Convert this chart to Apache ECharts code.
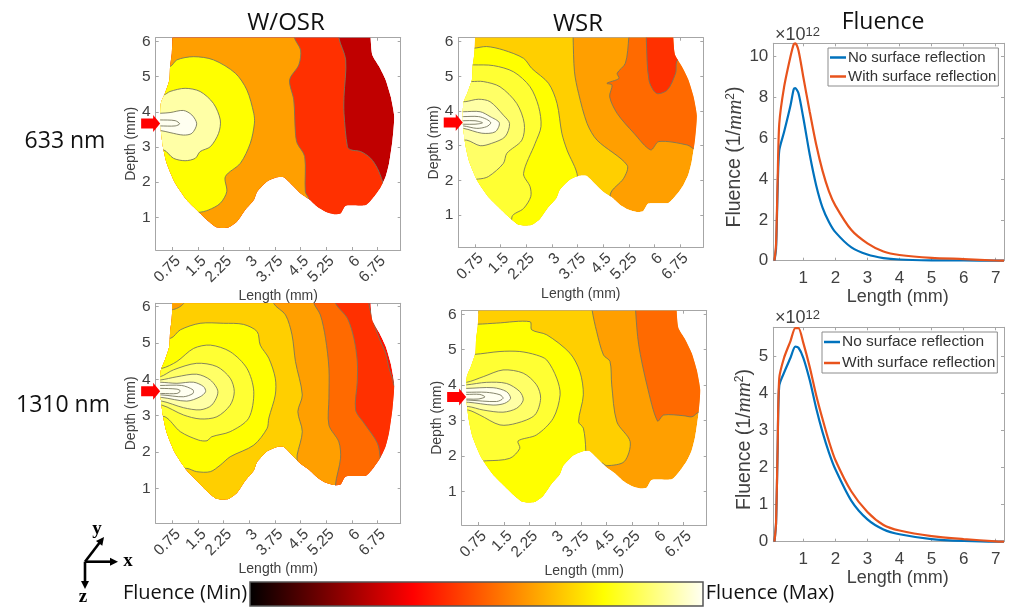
<!DOCTYPE html>
<html><head><meta charset="utf-8"><style>html,body{margin:0;padding:0;background:#fff}#c{width:1010px;height:607px}</style>
<script src="https://cdn.jsdelivr.net/npm/echarts@6/dist/echarts.min.js"></script></head><body><div id="c"></div>
<script>
// Shared tissue outline (Length mm, Depth mm); it runs past the top of the frame, where the axes clip it
const tissueOutline=[[0.75,6.6],[0.75,6.11],[0.73,5.67],[0.68,5.29],[0.66,4.91],[0.53,4.53],[0.41,4.24],[0.39,3.68],[0.47,3.01],[0.58,2.54],[0.83,1.97],[1.17,1.49],[1.51,1.16],[1.81,0.88],[2.05,0.71],[2.39,0.71],[2.64,0.88],[2.88,1.21],[3.13,1.49],[3.23,1.73],[3.52,2.02],[3.81,2.14],[4.01,2.14],[4.25,1.92],[4.50,1.68],[4.74,1.52],[4.99,1.30],[5.23,1.16],[5.48,1.09],[5.67,1.11],[5.82,1.33],[6.41,1.35],[6.65,1.59],[6.85,1.87],[6.99,2.16],[7.09,2.54],[7.19,3.20],[7.24,3.87],[7.14,4.43],[6.99,4.91],[6.80,5.29],[6.60,5.62],[6.55,6.11],[6.55,6.6]];
// Contour bands, painted in order; each band is closed outside the tissue
const osr633Bands=[
[[5.62,6.11],[5.82,5.48],[5.77,4.43],[5.77,3.96],[5.87,3.01],[5.97,2.92],[6.26,2.87],[6.55,2.68],[6.75,2.39],[6.90,2.02],[6.94,1.87],[7.5,1.5],[7.5,0],[0,0],[0,6.8],[5.6,6.8]],
[[4.32,6.11],[4.50,5.76],[4.45,5.34],[4.18,4.91],[4.30,4.34],[4.35,3.39],[4.40,3.11],[4.62,2.73],[4.64,1.73],[4.74,1.52],[4.74,0],[0,0],[0,6.8],[4.25,6.8]],
[[0.68,5.29],[0.88,5.48],[1.37,5.57],[1.95,5.48],[2.59,5.10],[2.93,4.62],[3.13,3.96],[3.15,3.68],[3.03,3.11],[2.74,2.54],[2.30,2.16],[2.34,1.73],[2.15,1.40],[1.81,1.21],[1.51,1.14],[0,1.14],[0,5.29]],
[[0.49,4.48],[0.68,4.58],[1.12,4.67],[1.56,4.58],[1.95,4.24],[2.15,3.77],[2.10,3.39],[1.86,3.01],[1.56,2.87],[1.42,2.68],[1.12,2.61],[0.78,2.68],[0.49,2.92],[0,2.92],[0,4.48]],
[[0.39,3.96],[0.68,3.98],[1.07,4.04],[1.32,3.91],[1.46,3.66],[1.32,3.39],[1.07,3.34],[0.68,3.41],[0.39,3.47],[0,3.47],[0,3.96]],
[[0.39,3.77],[0.83,3.75],[0.96,3.66],[0.83,3.60],[0.39,3.60],[0,3.60],[0,3.77]]];
const osr633BandLevels=[8,6,4,1,0,0];
const wsr633Bands=[
[[5.25,6.12],[5.15,5.38],[4.91,5.09],[4.96,4.94],[4.61,4.80],[4.76,4.75],[4.69,4.41],[4.91,3.93],[5.40,3.36],[5.89,2.88],[6.13,3.12],[6.96,3.02],[7.21,2.88],[7.6,2.88],[7.6,6.8],[5.28,6.8]],
[[5.76,6.12],[5.84,4.89],[6.06,4.51],[6.38,4.61],[6.62,5.09],[6.69,5.47],[7.6,5.47],[7.6,6.8],[5.74,6.8]],
[[3.62,6.12],[3.66,5.13],[3.78,4.51],[4.03,3.64],[4.32,3.16],[5.20,2.44],[5.10,2.06],[4.71,1.60],[4.71,0],[0,0],[0,6.8],[3.6,6.8]],
[[0.70,5.81],[1.09,5.86],[1.58,5.76],[2.17,5.52],[2.41,5.23],[2.90,4.80],[3.15,4.22],[3.29,3.36],[3.44,2.88],[3.75,2.11],[3.75,0],[0,0],[0,5.81]],
[[0.70,5.33],[1.29,5.31],[1.88,5.13],[2.36,4.70],[2.61,4.13],[2.68,3.55],[2.51,3.07],[2.17,2.20],[2.36,1.82],[2.38,1.53],[2.17,1.19],[1.83,0.95],[1.83,0],[0,0],[0,5.33]],
[[0.65,4.85],[0.99,4.85],[1.48,4.70],[1.97,4.22],[2.19,3.64],[2.12,3.16],[1.68,2.78],[1.58,2.49],[1.14,2.11],[0.85,2.04],[0,2.04],[0,4.85]],
[[0.46,4.27],[0.85,4.34],[1.19,4.27],[1.58,3.88],[1.76,3.64],[1.63,3.26],[1.24,3.07],[0.90,3.00],[0.51,3.16],[0,3.16],[0,4.27]],
[[0.41,3.98],[0.90,3.98],[1.19,3.84],[1.46,3.66],[1.34,3.40],[0.95,3.36],[0.41,3.50],[0,3.50],[0,3.98]],
[[0.41,3.84],[0.85,3.84],[1.09,3.76],[1.21,3.66],[1.09,3.55],[0.80,3.50],[0.41,3.57],[0,3.57],[0,3.84]],
[[0.41,3.72],[0.75,3.72],[0.97,3.66],[0.75,3.62],[0.41,3.62],[0,3.62],[0,3.72]]];
const wsr633BandLevels=[7,8,5,4,3,2,1,0,0,0];
const osr1310Bands=[
[[6.50,6.09],[6.60,5.68],[6.80,5.13],[6.99,4.72],[7.09,4.30],[7.19,4.03],[7.26,3.80],[7.6,3.8],[7.6,0],[0,0],[0,6.8],[6.45,6.8]],
[[5.52,6.09],[5.87,5.68],[6.06,5.13],[6.16,4.49],[6.16,3.94],[6.11,3.16],[6.36,2.79],[6.75,2.24],[6.83,1.78],[6.83,0],[0,0],[0,6.8],[5.3,6.8]],
[[4.89,6.09],[5.08,5.77],[5.23,5.13],[5.33,4.30],[5.33,3.48],[5.33,2.74],[5.62,2.28],[5.67,1.83],[5.52,1.09],[5.52,0],[0,0],[0,6.8],[4.7,6.8]],
[[3.71,6.09],[4.06,5.77],[4.25,5.22],[4.35,4.49],[4.55,3.57],[4.42,3.11],[4.55,2.56],[4.40,1.92],[4.40,1.73],[4.40,0],[0,0],[0,6.8],[3.5,6.8]],
[[0,5.9],[0.78,5.92],[1.1,6.12],[1.2,6.8],[0,6.8]],
[[0.70,5.13],[0.98,5.36],[1.56,5.54],[2.25,5.54],[2.83,5.51],[3.23,5.31],[3.32,4.94],[3.57,4.58],[3.76,4.03],[3.76,3.57],[3.57,2.93],[3.52,2.65],[3.13,2.19],[2.44,1.87],[2.15,1.64],[1.86,1.46],[1.46,1.46],[1.17,1.55],[0,1.55],[0,5.13]],
[[0.44,4.30],[0.88,4.49],[1.37,4.85],[1.86,4.94],[2.44,4.76],[2.93,4.30],[3.13,3.66],[2.98,2.93],[2.44,2.56],[1.90,2.42],[1.76,2.31],[1.51,2.33],[0.98,2.56],[0.53,2.97],[0,2.97],[0,4.30]],
[[0.39,4.07],[0.78,4.26],[1.46,4.44],[2.05,4.35],[2.44,4.03],[2.56,3.66],[2.44,3.29],[2.05,2.97],[1.56,2.91],[1.07,3.02],[0.44,3.29],[0,3.29],[0,4.07]],
[[0.39,3.98],[0.88,4.07],[1.46,4.14],[1.86,3.98],[2.08,3.66],[1.90,3.29],[1.56,3.16],[1.07,3.22],[0.44,3.40],[0,3.40],[0,3.98]],
[[0.39,3.92],[0.88,3.89],[1.37,3.92],[1.66,3.80],[1.72,3.66],[1.56,3.52],[1.17,3.40],[0.44,3.50],[0,3.50],[0,3.92]],
[[0.39,3.83],[1.02,3.83],[1.35,3.71],[1.35,3.61],[1.07,3.52],[0.44,3.57],[0,3.57],[0,3.83]],
[[0.39,3.75],[0.88,3.73],[0.98,3.68],[0.88,3.61],[0.44,3.61],[0,3.61],[0,3.75]]];
const osr1310BandLevels=[8,7,6,5,6,4,3,2,1,0,0,0];
const wsr1310Bands=[
[[5.35,6.10],[5.44,5.14],[5.68,4.01],[5.99,2.99],[6.17,3.16],[6.76,3.14],[7.00,3.11],[7.20,3.24],[7.6,3.24],[7.6,6.8],[5.33,6.8]],
[[4.08,6.10],[4.21,5.51],[4.41,4.85],[4.60,4.67],[4.65,4.01],[4.80,2.97],[5.19,2.41],[5.02,1.85],[4.51,1.73],[4.36,1.80],[4.36,0],[0,0],[0,6.8],[4.0,6.8]],
[[0.74,5.72],[1.28,5.75],[2.26,5.79],[2.31,5.56],[2.75,5.42],[3.43,4.90],[3.72,4.38],[3.82,3.73],[3.68,2.97],[3.82,2.79],[3.89,2.17],[3.89,0],[0,0],[0,5.72]],
[[0.64,4.87],[1.38,4.95],[1.96,4.95],[2.45,4.85],[2.75,4.71],[3.04,4.20],[3.14,3.73],[2.94,3.07],[2.45,2.60],[1.91,2.43],[1.96,2.22],[1.67,1.94],[0.98,1.87],[0,1.87],[0,4.87]],
[[0.40,4.08],[0.89,4.24],[1.47,4.43],[2.06,4.34],[2.45,4.01],[2.57,3.63],[2.40,3.16],[1.87,2.93],[1.38,2.88],[0.79,3.16],[0.45,3.30],[0,3.30],[0,4.08]],
[[0.40,4.01],[0.98,4.08],[1.57,4.05],[1.96,3.82],[2.06,3.58],[1.87,3.35],[1.47,3.24],[0.89,3.30],[0.45,3.40],[0,3.40],[0,4.01]],
[[0.40,3.91],[1.18,3.93],[1.57,3.82],[1.69,3.63],[1.52,3.49],[1.18,3.44],[0.45,3.52],[0,3.52],[0,3.91]],
[[0.40,3.80],[0.98,3.80],[1.38,3.73],[1.47,3.63],[1.28,3.54],[0.45,3.58],[0,3.58],[0,3.80]],
[[0.40,3.74],[0.79,3.74],[0.94,3.67],[0.74,3.61],[0.45,3.61],[0,3.61],[0,3.74]]];
const wsr1310BandLevels=[7,5,4,3,2,1,0,0,0];
// Band colours, index = fluence step from highest down
const levelColors=['#fffff0','#ffffa6','#ffff66','#ffff33','#ffff00','#ffcf00','#ff9f00','#ff6a00','#ff3000','#c00000','#ff1000'];
const lengthTicks=[0.75,1.5,2.25,3,3.75,4.5,5.25,6,6.75];
const depthTicks=[1,2,3,4,5,6];
const fluenceLengthTicks=[1,2,3,4,5,6,7];
const fluence633Ticks=[0,2,4,6,8,10];
const fluence1310Ticks=[0,1,2,3,4,5];
const seriesNames=['No surface reflection','With surface reflection'];
const noSr633=[[0.1,0],[0.15,0.6],[0.2,3.5],[0.25,5.4],[0.4,6.3],[0.6,7.6],[0.7,8.4],[0.75,8.45],[0.85,8.2],[1,7],[1.2,5.2],[1.4,3.7],[1.6,2.6],[1.8,1.9],[2,1.4],[2.5,0.65],[3,0.3],[3.5,0.13],[4,0.06],[5,0.02],[6,0.01],[7,0],[7.26,0]];
const withSr633=[[0.1,0],[0.15,0.8],[0.2,4],[0.25,6.7],[0.4,8.5],[0.6,10],[0.7,10.6],[0.75,10.65],[0.85,10.3],[1,9],[1.2,7.3],[1.4,5.7],[1.6,4.4],[1.8,3.4],[2,2.7],[2.5,1.5],[3,0.85],[3.5,0.45],[4,0.28],[5,0.14],[6,0.08],[7,0.01],[7.26,0]];
const noSr1310=[[0.1,0],[0.15,0.5],[0.2,2.5],[0.25,4.2],[0.4,4.55],[0.6,4.95],[0.75,5.25],[0.85,5.22],[1,4.95],[1.2,4.35],[1.4,3.6],[1.6,2.95],[1.8,2.4],[2,1.95],[2.5,1.1],[3,0.6],[3.5,0.33],[4,0.2],[5,0.07],[6,0.02],[7,0],[7.26,0]];
const withSr1310=[[0.1,0],[0.15,0.5],[0.2,2.6],[0.25,4.4],[0.4,4.95],[0.6,5.4],[0.75,5.75],[0.85,5.75],[1,5.35],[1.2,4.7],[1.4,3.95],[1.6,3.3],[1.8,2.7],[2,2.2],[2.5,1.35],[3,0.8],[3.5,0.45],[4,0.3],[5,0.15],[6,0.07],[7,0.01],[7.26,0]];
const sourceDepth=3.67, sourceLength=0.39;

const SANS='"Liberation Sans",Arial,sans-serif', HUM='"Open Sans",sans-serif';
const FRAME='#a6a6a6', TXT='#404040';
const grids=[],xAxes=[],yAxes=[],series=[];
function frameAxes(g,xr,yr,xt,yt,o){
  const idx=grids.length; grids.push(Object.assign({show:false},g));
  const base=(pos,r,t)=>({type:'value',gridIndex:idx,position:pos,min:r[0],max:r[1],splitLine:{show:false},
    axisLine:{show:true,onZero:false,lineStyle:{color:FRAME,width:1}},
    axisTick:{show:true,inside:true,length:3,customValues:t,lineStyle:{color:FRAME}}});
  const xa=base('bottom',xr,xt); xa.axisLabel=Object.assign({show:true,customValues:xt,fontFamily:SANS,fontSize:o.fs,color:TXT,rotate:o.rot||0,margin:o.xm},o.xLabel||{});
  xa.name=o.xName;xa.nameLocation='middle';xa.nameGap=o.xGap;xa.nameTextStyle=Object.assign({fontFamily:SANS,fontSize:o.nameFs,color:TXT},o.xStyle||{});
  const ya=base('left',yr,yt); ya.axisLabel={show:true,customValues:yt,fontFamily:SANS,fontSize:o.fs,color:TXT,margin:o.ym};
  ya.name=o.yName;ya.nameLocation='middle';ya.nameGap=o.yGap;ya.nameTextStyle=Object.assign({fontFamily:SANS,fontSize:o.nameFs,color:TXT},o.yStyle||{});
  const xi=xAxes.length; xAxes.push(xa);
  const yi=yAxes.length; yAxes.push(ya);
  const xb=base('top',xr,xt); xb.axisLabel={show:false};
  const yb=base('right',yr,yt); yb.axisLabel={show:false};
  xAxes.push(xb); yAxes.push(yb);
  return [xi,yi];
}
function contourPanel(g,yr,bands,levels,base,o){
  const [xi,yi]=frameAxes(g,[0.26,7.43],yr,lengthTicks,depthTicks,Object.assign({fs:15.5,rot:45,xm:3,ym:5,nameFs:14,xLabel:{verticalAlign:'top'},xName:'Length (mm)',yName:'Depth (mm)'},o));
  const layers=[tissueOutline].concat(bands), cols=[levelColors[base]].concat(levels.map(l=>levelColors[l]));
  series.push({type:'custom',xAxisIndex:xi,yAxisIndex:yi,silent:true,animation:false,coordinateSystem:'cartesian2d',
    data:layers.map((_,i)=>[i]),encode:{x:-1,y:-1},clip:true,
    renderItem:(p,api)=>{
      const i=p.dataIndex;
      return {type:'polygon',shape:{points:layers[i].map(q=>api.coord(q)),smooth:i?0.3:0.2},
        clipPath:{type:'polygon',shape:{points:tissueOutline.map(q=>api.coord(q)),smooth:0.2}},
        style:{fill:cols[i],stroke:i?'#77775c':null,lineWidth:i?0.9:0}};
    }});
  series.push({type:'custom',xAxisIndex:xi,yAxisIndex:yi,silent:true,animation:false,coordinateSystem:'cartesian2d',
    data:[[sourceLength,sourceDepth]],clip:false,z:5,
    renderItem:(p,api)=>{
      const c=api.coord([api.value(0),api.value(1)]),x=c[0],y=c[1];
      return {type:'polygon',shape:{points:[[x,y],[x-7,y-8.5],[x-7,y-5],[x-19,y-5],[x-19,y+5],[x-7,y+5],[x-7,y+8.5]]},style:{fill:'#ff0000'}};
    }});
}
function linePanel(g,yr,yt,a,b,o){
  const [xi,yi]=frameAxes(g,[0.064,7.26],yr,fluenceLengthTicks,yt,Object.assign({fs:17,xm:9,ym:5,nameFs:18,xName:'Length (mm)',xStyle:{padding:[0,0,0,18]},
    yName:'Fluence (1/{i|mm}{s|2})',
    yStyle:{fontSize:19.5,padding:[0,10,0,0],rich:{i:{fontFamily:'"Liberation Serif",serif',fontStyle:'italic',fontSize:21,color:TXT},s:{fontSize:12,color:TXT,verticalAlign:'top',padding:[0,0,8,0]}}}},o));
  [a,b].forEach((d,i)=>series.push({type:'line',name:seriesNames[i],xAxisIndex:xi,yAxisIndex:yi,data:d,symbol:'none',smooth:0.25,animation:false,silent:true,clip:false,
    lineStyle:{width:2.2,color:i?'#e8531c':'#0072bd'},itemStyle:{color:i?'#e8531c':'#0072bd'}}));
}
contourPanel({left:155.7,top:37.7,width:245,height:212.3},[0.07,6.11],osr633Bands,osr633BandLevels,9,{xGap:37,yGap:6});
contourPanel({left:458.3,top:37.7,width:245,height:209.6},[0.07,6.115],wsr633Bands,wsr633BandLevels,6,{xGap:40,yGap:6});
contourPanel({left:155.7,top:303.3,width:245,height:220},[0.04,6.09],osr1310Bands,osr1310BandLevels,10,{xGap:37,yGap:14});
contourPanel({left:461.7,top:310.7,width:245,height:214.3},[0.06,6.10],wsr1310Bands,wsr1310BandLevels,6,{xGap:33,yGap:12});
linePanel({left:773.3,top:43.3,width:230.7,height:217.4},[0,10.65],fluence633Ticks,noSr633,withSr633,{xGap:24,yGap:17});
linePanel({left:773.3,top:327.3,width:230.7,height:214.4},[0,5.77],fluence1310Ticks,noSr1310,withSr1310,{xGap:25,yGap:18});

const text=(x,y,t,fs,extra)=>({type:'text',x,y,silent:true,style:Object.assign({text:t,fontFamily:HUM,fontSize:fs,fill:'#111',align:'center',verticalAlign:'middle'},extra||{})});
const arrow=(x1,y1,x2,y2)=>{
  const a=Math.atan2(y2-y1,x2-x1),L=8,W=4;
  return [{type:'line',silent:true,shape:{x1,y1,x2:x2-L*Math.cos(a)*0.8,y2:y2-L*Math.sin(a)*0.8},style:{stroke:'#000',lineWidth:2.6}},
  {type:'polygon',silent:true,shape:{points:[[x2,y2],[x2-L*Math.cos(a)-W*Math.sin(a),y2-L*Math.sin(a)+W*Math.cos(a)],[x2-L*Math.cos(a)+W*Math.sin(a),y2-L*Math.sin(a)-W*Math.cos(a)]]},style:{fill:'#000'}}];
};
const serif={fontFamily:'"Liberation Serif",serif',fontWeight:'bold',fill:'#000'};
const sci=(x,y)=>({type:'text',x,y,silent:true,style:{text:'×10{b|12}',fontFamily:SANS,fontSize:18,fill:TXT,rich:{b:{fontFamily:SANS,fontSize:13,fill:TXT,verticalAlign:'top',padding:[0,0,4,0]}}}});
const graphic=[
 text(286,23,'W/OSR',24),text(578,24,'WSR',24),text(883,22,'Fluence',23),
 text(65,141,'633 nm',23),text(63,405,'1310 nm',23),
 sci(775,26),sci(775,309),
 {type:'rect',silent:true,shape:{x:250,y:582,width:453,height:24},style:{stroke:'#555',lineWidth:1.5,
   fill:new echarts.graphic.LinearGradient(0,0,1,0,[{offset:0,color:'#000'},{offset:.36,color:'#f00'},{offset:.78,color:'#ff0'},{offset:1,color:'#fffff5'}])}},
 text(185,593,'Fluence (Min)',20),text(770,593,'Fluence (Max)',20),
 ...arrow(85,561.7,118,561.7),...arrow(85,561.7,104,537),...arrow(85,561.7,85,589),
 text(128,561,'x',19,serif),text(97,529,'y',19,serif),text(83,597,'z',19,serif)
];
const legend=(left,top,fs,gap)=>({show:true,data:seriesNames,orient:'vertical',left,top,itemWidth:16,itemHeight:2.5,itemGap:gap,padding:[2,2,2,2],
  borderColor:'#8c8c8c',borderWidth:1,backgroundColor:'#fff',selectedMode:false,textStyle:{fontFamily:SANS,fontSize:fs,color:'#333',padding:[0,0,0,-3]},icon:'rect',z:10});
const chart=echarts.init(document.getElementById('c'),null,{renderer:'canvas'});
chart.setOption({animation:false,backgroundColor:'#fff',grid:grids,xAxis:xAxes,yAxis:yAxes,series,graphic,
  legend:[legend(828,48,15,4),legend(822,332,15.5,5)]});
</script></body></html>
